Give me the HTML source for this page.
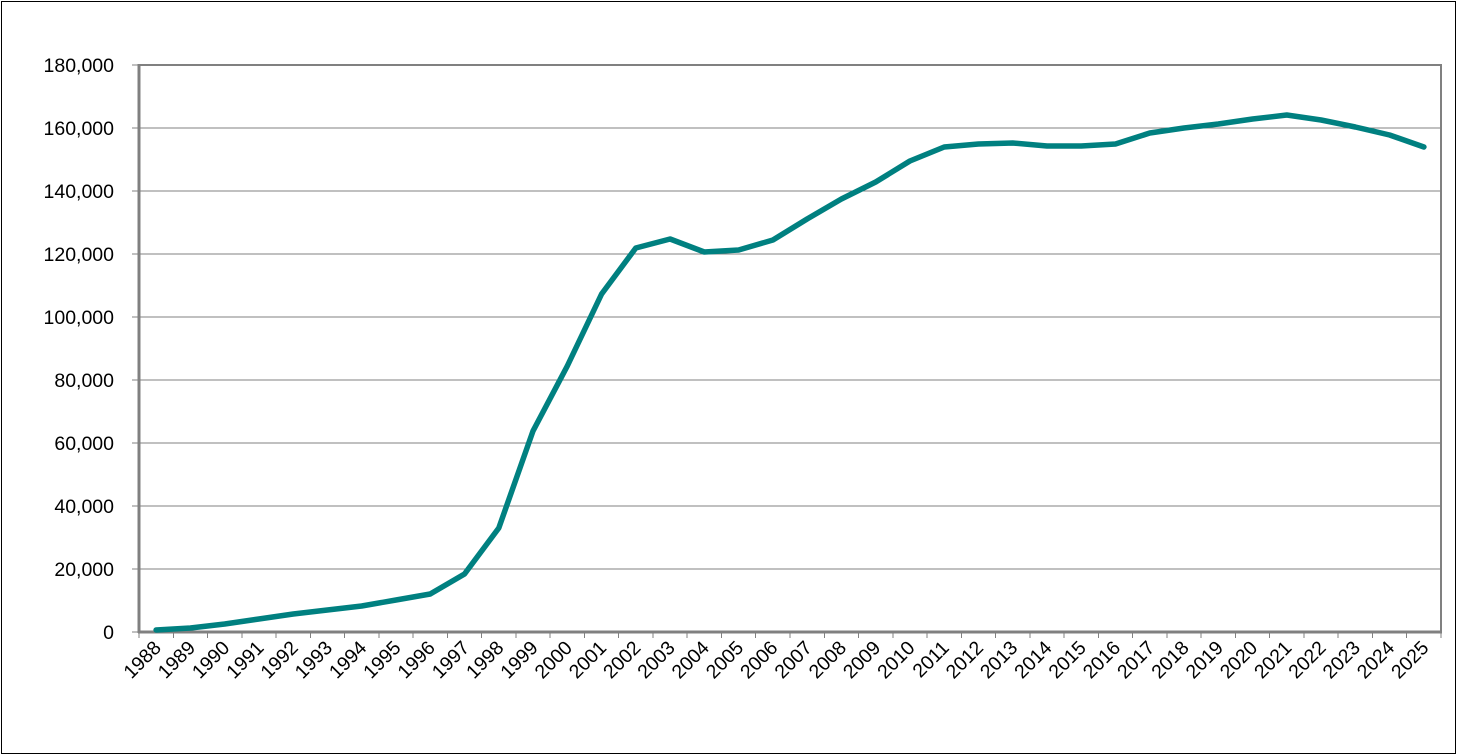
<!DOCTYPE html>
<html><head><meta charset="utf-8"><style>
html,body{margin:0;padding:0;background:#fff}
svg{display:block}
text{font-family:"Liberation Sans",Arial,sans-serif;font-size:19.5px;fill:#000}
</style></head><body>
<svg width="1457" height="755" viewBox="0 0 1457 755" xmlns="http://www.w3.org/2000/svg">
<rect x="1.5" y="1.5" width="1454" height="752" fill="#fff" stroke="#000" stroke-width="1"/>
<g stroke="#808080" stroke-width="1" shape-rendering="crispEdges" id="gr"></g>
<rect x="139" y="65" width="1302" height="567" fill="none" stroke="#808080" stroke-width="2"/>
<line x1="139" y1="64" x2="139" y2="633" stroke="#808080" stroke-width="3"/>
<line x1="138" y1="632" x2="1442" y2="632" stroke="#808080" stroke-width="3"/>
<g stroke="#808080" stroke-width="1" shape-rendering="crispEdges" id="yt"></g>
<g id="xt" stroke="#808080" stroke-width="1" shape-rendering="crispEdges"></g>
<g id="yl" text-anchor="end"></g>
<g id="xl" text-anchor="end"></g>
<polyline id="ln" fill="none" stroke="#008080" stroke-width="5.5" stroke-linejoin="round" stroke-linecap="round"/>
</svg>
<script>
var ns="http://www.w3.org/2000/svg";
function el(t,a,p,txt){var e=document.createElementNS(ns,t);for(var k in a)e.setAttribute(k,a[k]);if(txt)e.textContent=txt;document.getElementById(p).appendChild(e);}
var labs=["0","20,000","40,000","60,000","80,000","100,000","120,000","140,000","160,000","180,000"];
for(var i=0;i<10;i++){var y=632-63*i;if(i>0&&i<9)el("line",{x1:139,y1:y,x2:1441,y2:y},"gr");el("line",{x1:132,y1:y,x2:139,y2:y},"yt");el("text",{x:114,y:y+7},"yl",labs[i]);}
var w=1302/38;
for(var k=0;k<=38;k++){var x=139+w*k;el("line",{x1:x,y1:632,x2:x,y2:638},"xt");}
var ys=[630,628,624,619,614,610,606,600,594,574,528,431,366,294,248,239,252,250,240,219,199,182,161,147,144,143,146,146,144,133,128,124,119,115,120,127,135,147];
var pts=[];
for(var k=0;k<38;k++){var cx=139+w*(k+0.5);pts.push(cx.toFixed(1)+","+ys[k]);
var tx=cx+6,ty=649;el("text",{x:tx,y:ty,transform:"rotate(-45 "+tx+" "+ty+")"},"xl",String(1988+k));}
document.getElementById("ln").setAttribute("points",pts.join(" "));
</script>
</body></html>
